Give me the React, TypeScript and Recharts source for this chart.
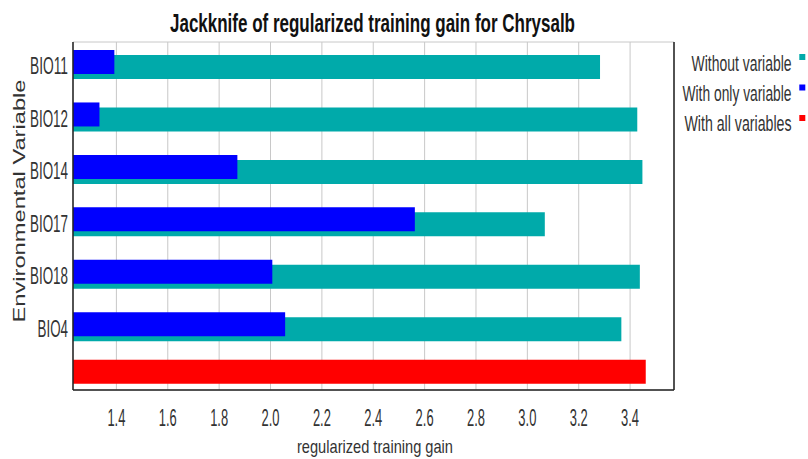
import React from 'react';
import { BarChart, Bar, XAxis, YAxis, CartesianGrid, Legend } from 'recharts';

const variables = ['BIO11', 'BIO12', 'BIO14', 'BIO17', 'BIO18', 'BIO4', 'all'];
const withoutVariable = [3.283, 3.428, 3.448, 3.068, 3.438, 3.366, null];
const withOnlyVariable = [1.392, 1.334, 1.871, 2.562, 2.007, 2.057, null];
const withAllVariables = [null, null, null, null, null, null, 3.461];
const variableTicks = ['BIO11', 'BIO12', 'BIO14', 'BIO17', 'BIO18', 'BIO4'];
const gainTicks = [1.4, 1.6, 1.8, 2.0, 2.2, 2.4, 2.6, 2.8, 3.0, 3.2, 3.4];
const gainDomain = [1.231, 3.571];
const seriesNames = ['Without variable', 'With only variable', 'With all variables'];
const seriesColors = ['#00AAAA', '#0000FF', '#FF0000'];
const legendWidths = [100, 109, 107];

const data = variables.map((v, i) => ({
  name: v,
  without: withoutVariable[i],
  only: withOnlyVariable[i],
  all: withAllVariables[i],
}));

const FONT = '"Liberation Sans", Arial, sans-serif';
const TEXT = '#333333';
const FRAME = '#222222';
const LEGEND_SX = 0.635;

const XTick = (props: any) => {
  const { x, y, payload } = props;
  return (
    <text x={x} y={y + 35.5} textAnchor="middle" fontSize={24} fontFamily={FONT} fill={TEXT}
      textLength={18} lengthAdjust="spacingAndGlyphs">
      {Number(payload.value).toFixed(1)}
    </text>
  );
};

const YTick = (props: any) => {
  const { x, y, payload } = props;
  const label = String(payload.value);
  return (
    <text x={x - 5} y={y + 12} textAnchor="end" fontSize={23} fontFamily={FONT} fill={TEXT}
      textLength={label.length * 7.6} lengthAdjust="spacingAndGlyphs">
      {label}
    </text>
  );
};

const LegendContent = (props: any) => {
  const payload = [...(props.payload || [])].sort(
    (a: any, b: any) => seriesNames.indexOf(a.value) - seriesNames.indexOf(b.value)
  );
  return (
    <svg width={208} height={110} style={{ display: 'block', overflow: 'visible' }}>
      {payload.map((p: any, i: number) => {
        const idx = seriesNames.indexOf(p.value);
        return (
          <g key={p.value}>
            <text transform={`translate(191.5,${30.5 + i * 30}) scale(${LEGEND_SX},1)`} x={0} y={0}
              textAnchor="end" fontSize={22} fontFamily={FONT} fill={TEXT}
              textLength={legendWidths[idx] / LEGEND_SX} lengthAdjust="spacingAndGlyphs">
              {p.value}
            </text>
            <rect x={199.3} y={14 + i * 30.5} width={6} height={6} fill={seriesColors[idx]} />
          </g>
        );
      })}
    </svg>
  );
};

export default function App() {
  return (
    <div style={{ position: 'absolute', left: 0, top: 0, width: 808, height: 459, background: '#fff' }}>
      <BarChart
        width={808}
        height={459}
        data={data}
        layout="vertical"
        margin={{ top: 42, right: 0, bottom: 0, left: 0 }}
        barGap={-29}
        barSize={24}
      >
        <CartesianGrid xAxisId="bottom" yAxisId="r" stroke="#c8c8c8" strokeWidth={1} />
        <XAxis xAxisId="bottom" type="number" orientation="bottom" domain={gainDomain} ticks={gainTicks}
          allowDataOverflow height={69} tickSize={0} tickMargin={0} tickLine={false}
          axisLine={{ stroke: FRAME, strokeWidth: 1.5 }} tick={<XTick />} interval={0} />
        <XAxis xAxisId="top" type="number" orientation="top" domain={gainDomain} allowDataOverflow
          height={0} tick={false} tickLine={false} axisLine={{ stroke: FRAME, strokeWidth: 1.5 }} />
        <YAxis yAxisId="l" type="category" dataKey="name" orientation="left" width={73}
          ticks={variableTicks} padding={{ top: -6, bottom: -13.2 }} tickSize={0} tickMargin={0}
          tickLine={false} axisLine={{ stroke: FRAME, strokeWidth: 1.5 }} tick={<YTick />} interval={0} />
        <YAxis yAxisId="r" type="category" dataKey="name" orientation="right" width={134}
          ticks={variableTicks} padding={{ top: -8.2, bottom: -11 }} tickSize={-6} tick={false}
          tickLine={{ stroke: FRAME, strokeWidth: 1.5 }} axisLine={{ stroke: FRAME, strokeWidth: 1.5 }} interval={0} />
        <Bar xAxisId="bottom" yAxisId="l" dataKey="without" name={seriesNames[0]} fill={seriesColors[0]} isAnimationActive={false} />
        <Bar xAxisId="bottom" yAxisId="l" dataKey="only" name={seriesNames[1]} fill={seriesColors[1]} isAnimationActive={false} />
        <Bar xAxisId="bottom" yAxisId="l" dataKey="all" name={seriesNames[2]} fill={seriesColors[2]} isAnimationActive={false} />
        <Legend layout="vertical" align="center" verticalAlign="middle" content={<LegendContent />}
          wrapperStyle={{ left: 600, top: 40, width: 208, height: 110 }} />
        <text x={372.5} y={31.5} textAnchor="middle" fontSize={25} fontWeight="bold" fontFamily={FONT} fill="#111"
          textLength={405} lengthAdjust="spacingAndGlyphs">
          Jackknife of regularized training gain for Chrysalb
        </text>
        <text x={375} y={453} textAnchor="middle" fontSize={19} fontFamily={FONT} fill={TEXT}
          textLength={156} lengthAdjust="spacingAndGlyphs">
          regularized training gain
        </text>
        <text transform="translate(25,201) scale(0.71,1) rotate(-90)" x={0} y={0} textAnchor="middle" fontSize={23.5}
          fontFamily={FONT} fill={TEXT} textLength={243} lengthAdjust="spacingAndGlyphs">
          Environmental Variable
        </text>
      </BarChart>
    </div>
  );
}
